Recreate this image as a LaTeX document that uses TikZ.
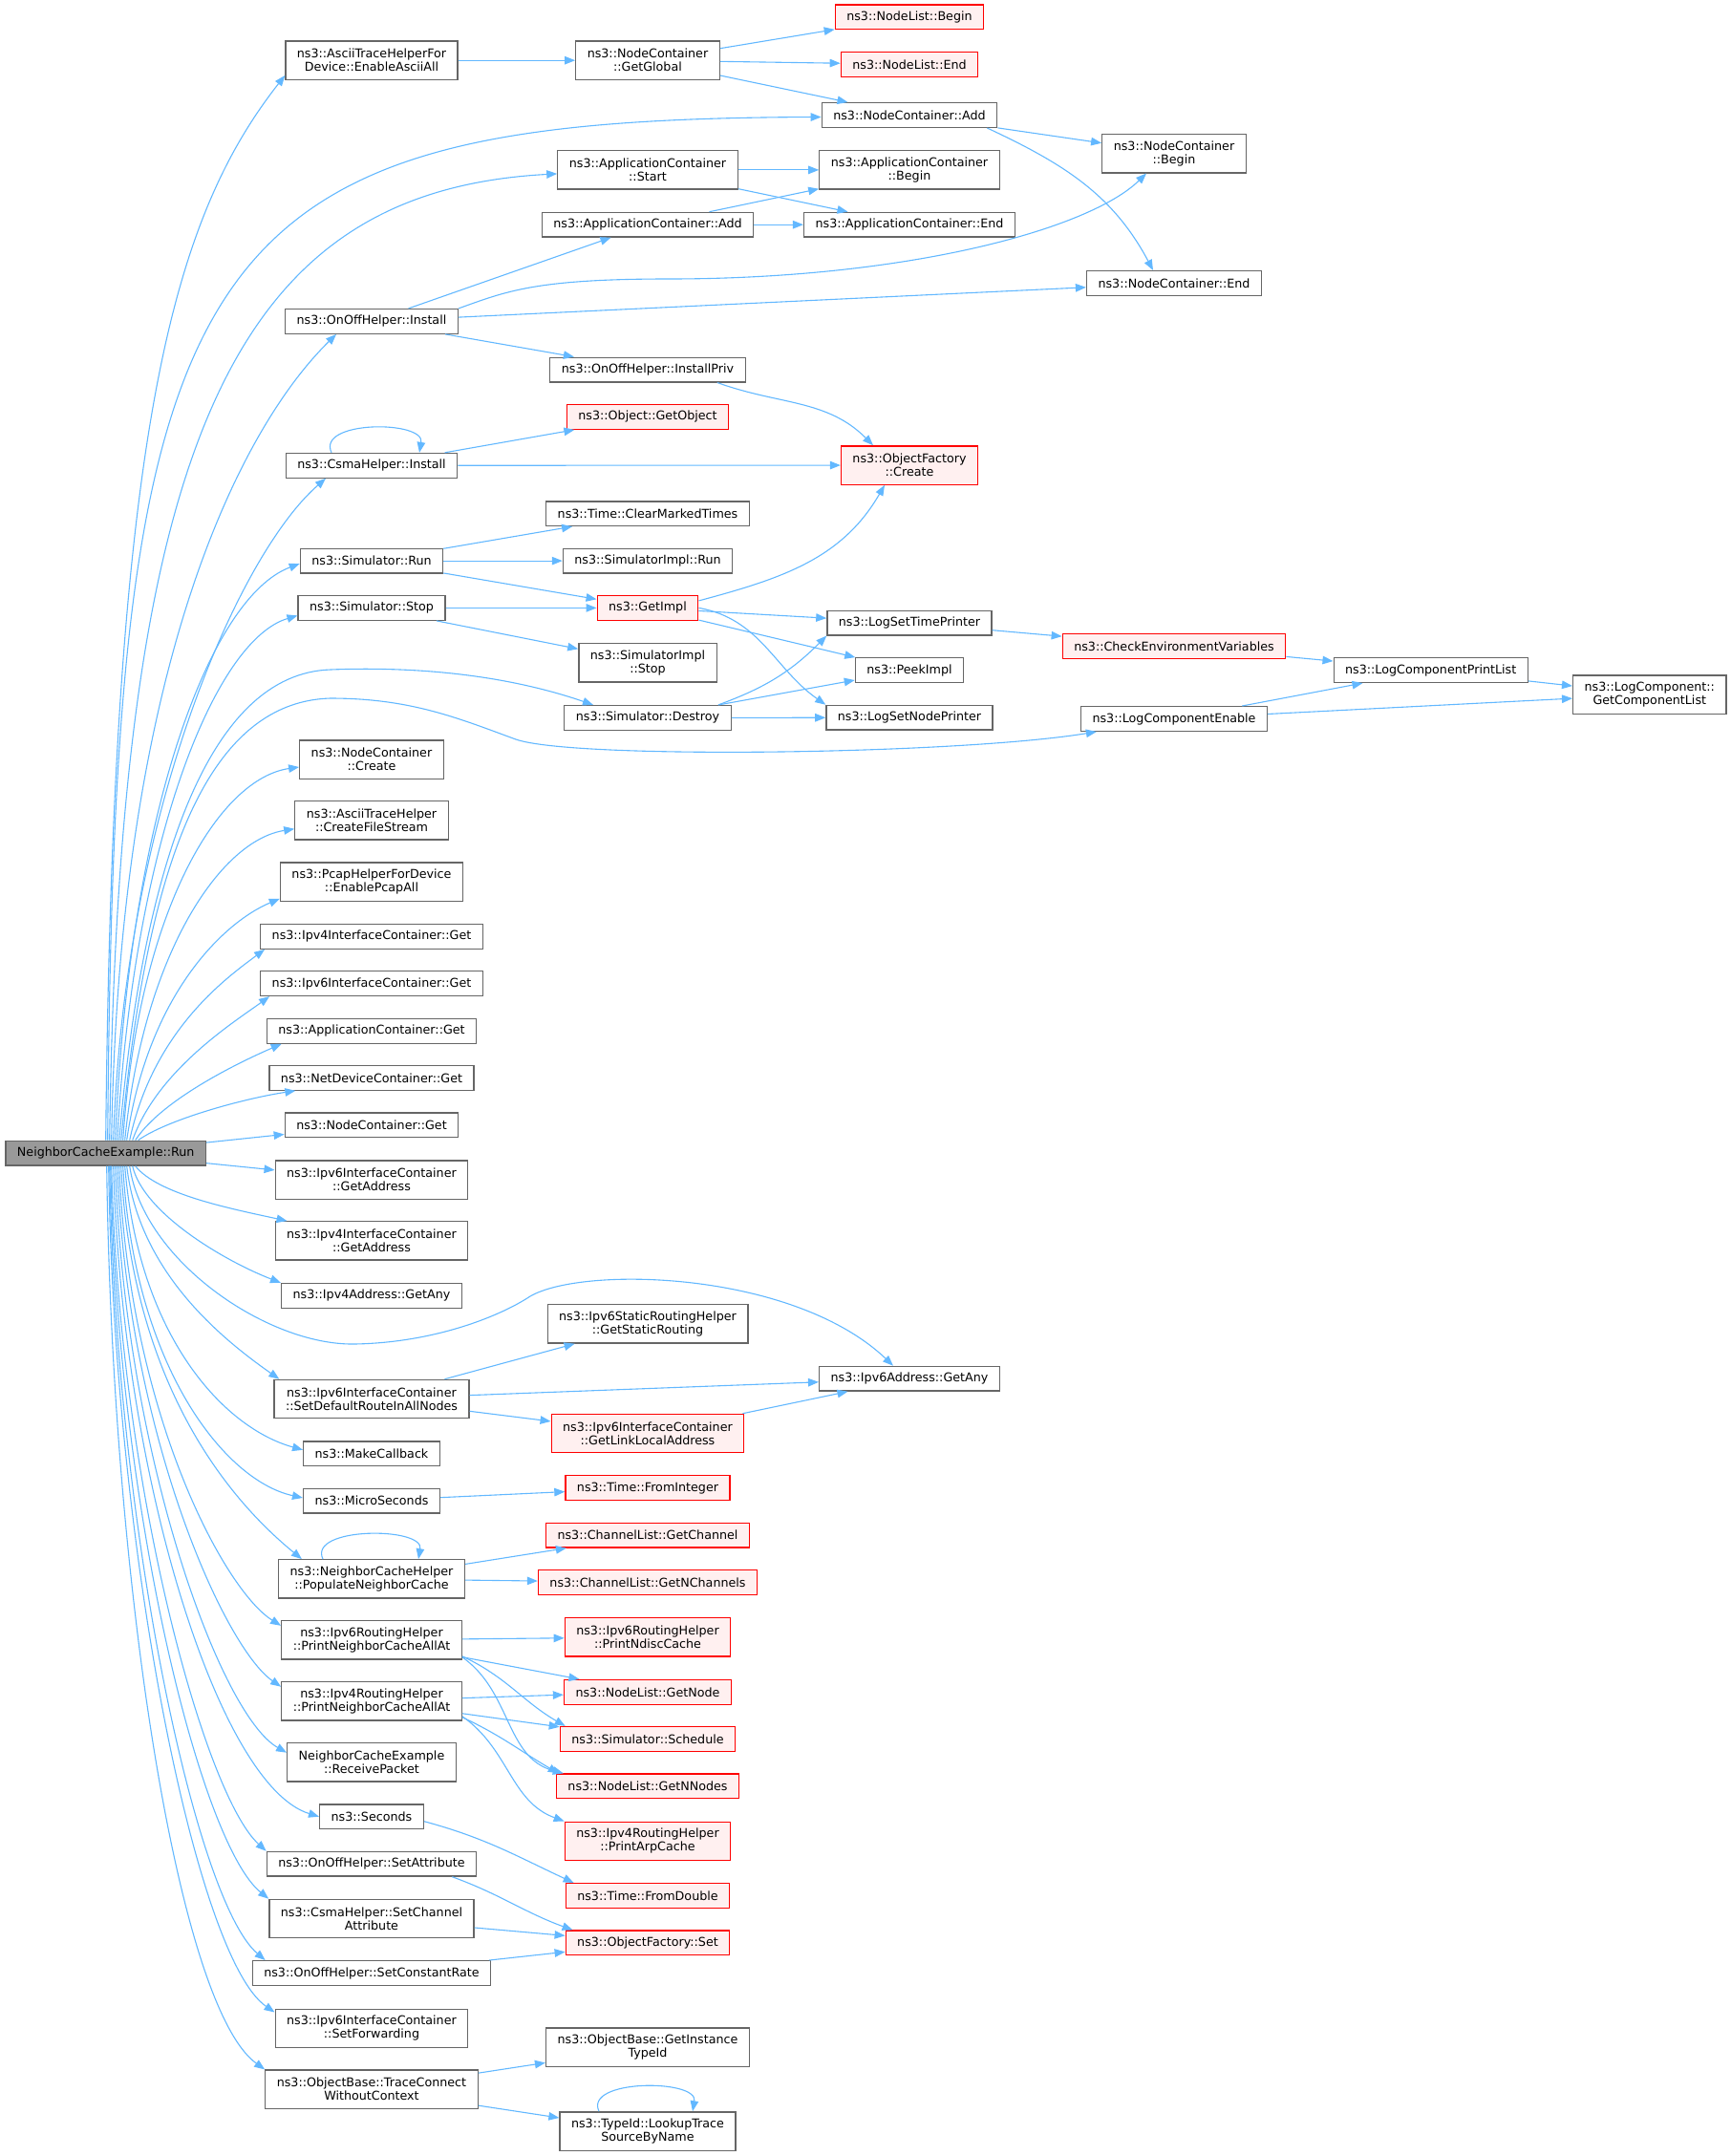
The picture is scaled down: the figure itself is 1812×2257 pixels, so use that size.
\documentclass[tikz,border=0pt]{standalone}
\usepackage{fontspec}
\newfontfamily\dejavu{DejaVu Sans}
\usetikzlibrary{arrows.meta}
\definecolor{edgeblue}{HTML}{63B8FF}
\definecolor{boxgray}{HTML}{666666}
\definecolor{redfill}{HTML}{FFF0F0}
\definecolor{mainfill}{HTML}{999999}
\tikzset{
	fn/.style={draw=boxgray, fill=white, line width=1.3pt, inner xsep=12pt, inner ysep=0pt,
		minimum height=25.7pt, align=center, font=\dejavu\fontsize{12.7pt}{14pt}\selectfont},
	tall/.style={minimum height=40.3pt},
	redfn/.style={draw=red, fill=redfill},
	mainfn/.style={fill=mainfill},
	call/.style={draw=edgeblue, line width=1.1pt, -{Triangle[length=11pt,width=8.5pt]}},
}

\begin{document}
\begin{tikzpicture}[x=1pt,y=-1pt]
	\useasboundingbox (0,0) rectangle (1812,2257);

	% caller
	\node[fn, mainfn] (run) at (110.7,1207.1) {NeighborCacheExample::Run};

	% first level
	\node[fn, tall] (asciiall) at (389,63.2) {ns3::AsciiTraceHelperFor\\Device::EnableAsciiAll};
	\node[fn] (onoffinst) at (389,336.4) {ns3::OnOffHelper::Install};
	\node[fn] (csmainst) at (389,487.3) {ns3::CsmaHelper::Install};
	\node[fn] (simrun) at (389,587.1) {ns3::Simulator::Run};
	\node[fn] (simstop) at (389,636.4) {ns3::Simulator::Stop};
	\node[fn, tall] (nccreate) at (389,795) {ns3::NodeContainer\\::Create};
	\node[fn, tall] (filestream) at (389,858.7) {ns3::AsciiTraceHelper\\::CreateFileStream};
	\node[fn, tall] (pcapall) at (389,923) {ns3::PcapHelperForDevice\\::EnablePcapAll};
	\node[fn] (ipv4get) at (389,980.4) {ns3::Ipv4InterfaceContainer::Get};
	\node[fn] (ipv6get) at (389,1029.6) {ns3::Ipv6InterfaceContainer::Get};
	\node[fn] (appget) at (389,1079.3) {ns3::ApplicationContainer::Get};
	\node[fn] (netdevget) at (389,1128.3) {ns3::NetDeviceContainer::Get};
	\node[fn] (ncget) at (389,1177.9) {ns3::NodeContainer::Get};
	\node[fn, tall] (ipv6addr) at (389,1235) {ns3::Ipv6InterfaceContainer\\::GetAddress};
	\node[fn, tall] (ipv4addr) at (389,1298.9) {ns3::Ipv4InterfaceContainer\\::GetAddress};
	\node[fn] (ipv4any) at (389,1356.4) {ns3::Ipv4Address::GetAny};
	\node[fn, tall] (setdefault) at (389,1464.5) {ns3::Ipv6InterfaceContainer\\::SetDefaultRouteInAllNodes};
	\node[fn] (makecb) at (389,1521.8) {ns3::MakeCallback};
	\node[fn] (micro) at (389,1571) {ns3::MicroSeconds};
	\node[fn, tall] (populate) at (389,1652.9) {ns3::NeighborCacheHelper\\::PopulateNeighborCache};
	\node[fn, tall] (ipv6rh) at (389,1716.8) {ns3::Ipv6RoutingHelper\\::PrintNeighborCacheAllAt};
	\node[fn, tall] (ipv4rh) at (389,1780.7) {ns3::Ipv4RoutingHelper\\::PrintNeighborCacheAllAt};
	\node[fn, tall] (recvpkt) at (389,1844.7) {NeighborCacheExample\\::ReceivePacket};
	\node[fn] (seconds) at (389,1901.7) {ns3::Seconds};
	\node[fn] (setattr) at (389,1951.2) {ns3::OnOffHelper::SetAttribute};
	\node[fn, tall] (setchanattr) at (389,2008.5) {ns3::CsmaHelper::SetChannel\\Attribute};
	\node[fn] (setrate) at (389,2065.5) {ns3::OnOffHelper::SetConstantRate};
	\node[fn, tall] (setfwd) at (389,2123.3) {ns3::Ipv6InterfaceContainer\\::SetForwarding};
	\node[fn, tall] (tracecon) at (389,2187.2) {ns3::ObjectBase::TraceConnect\\WithoutContext};

	% second level
	\node[fn, tall] (getglobal) at (678,63.2) {ns3::NodeContainer\\::GetGlobal};
	\node[fn, tall] (appstart) at (678,177.9) {ns3::ApplicationContainer\\::Start};
	\node[fn] (appadd) at (678,235.2) {ns3::ApplicationContainer::Add};
	\node[fn] (installpriv) at (678,387) {ns3::OnOffHelper::InstallPriv};
	\node[fn, redfn] (getobject) at (678,436.4) {ns3::Object::GetObject};
	\node[fn] (clearmarked) at (678,537.7) {ns3::Time::ClearMarkedTimes};
	\node[fn] (simimplrun) at (678,587.1) {ns3::SimulatorImpl::Run};
	\node[fn, redfn] (getimpl) at (678,636.4) {ns3::GetImpl};
	\node[fn, tall] (simimplstop) at (678,693.7) {ns3::SimulatorImpl\\::Stop};
	\node[fn] (simdestroy) at (678,751.4) {ns3::Simulator::Destroy};
	\node[fn, tall] (staticrt) at (678,1385.9) {ns3::Ipv6StaticRoutingHelper\\::GetStaticRouting};
	\node[fn, tall, redfn] (linklocal) at (678,1500.5) {ns3::Ipv6InterfaceContainer\\::GetLinkLocalAddress};
	\node[fn, redfn] (fromint) at (678,1557.6) {ns3::Time::FromInteger};
	\node[fn, redfn] (getchannel) at (678,1607.1) {ns3::ChannelList::GetChannel};
	\node[fn, redfn] (getnchannels) at (678,1656.4) {ns3::ChannelList::GetNChannels};
	\node[fn, tall, redfn] (ndisc) at (678,1713.9) {ns3::Ipv6RoutingHelper\\::PrintNdiscCache};
	\node[fn, redfn] (getnode) at (678,1771.3) {ns3::NodeList::GetNode};
	\node[fn, redfn] (schedule) at (678,1820.4) {ns3::Simulator::Schedule};
	\node[fn, redfn] (getnnodes) at (678,1869.9) {ns3::NodeList::GetNNodes};
	\node[fn, tall, redfn] (arpcache) at (678,1927.3) {ns3::Ipv4RoutingHelper\\::PrintArpCache};
	\node[fn, redfn] (fromdouble) at (678,1984.5) {ns3::Time::FromDouble};
	\node[fn, redfn] (objset) at (678,2033.9) {ns3::ObjectFactory::Set};
	\node[fn, tall] (getinstance) at (678,2143.1) {ns3::ObjectBase::GetInstance\\TypeId};
	\node[fn, tall] (lookup) at (678,2231) {ns3::TypeId::LookupTrace\\SourceByName};

	% third level and beyond
	\node[fn, redfn] (nlbegin) at (952,17.9) {ns3::NodeList::Begin};
	\node[fn, redfn] (nlend) at (952,67.3) {ns3::NodeList::End};
	\node[fn] (ncadd) at (952,120.5) {ns3::NodeContainer::Add};
	\node[fn, tall] (appbegin) at (952,177.9) {ns3::ApplicationContainer\\::Begin};
	\node[fn] (append) at (952,235.2) {ns3::ApplicationContainer::End};
	\node[fn, tall, redfn] (ofcreate) at (952,487) {ns3::ObjectFactory\\::Create};
	\node[fn] (logtime) at (952,652.1) {ns3::LogSetTimePrinter};
	\node[fn] (peekimpl) at (952,701.6) {ns3::PeekImpl};
	\node[fn] (lognode) at (952,751.2) {ns3::LogSetNodePrinter};
	\node[fn] (ipv6any) at (952,1443.2) {ns3::Ipv6Address::GetAny};
	\node[fn, tall] (ncbegin) at (1229,160.7) {ns3::NodeContainer\\::Begin};
	\node[fn] (ncend) at (1229,296.4) {ns3::NodeContainer::End};
	\node[fn, redfn] (checkenv) at (1229,676.4) {ns3::CheckEnvironmentVariables};
	\node[fn] (logenable) at (1229,752.5) {ns3::LogComponentEnable};
	\node[fn] (logprint) at (1497.7,701.6) {ns3::LogComponentPrintList};
	\node[fn, tall] (getcomplist) at (1726.8,727) {ns3::LogComponent::\\GetComponentList};

	% calls from run, upwards
	\draw[call] ([xshift=0pt]run.north) .. controls (118,450) and (180,230) .. ([yshift=5pt]asciiall.south west);
	\draw[call] ([xshift=2pt]run.north) .. controls (120,250) and (200,125) .. ([yshift=-2pt]ncadd.west);
	\draw[call] ([xshift=4pt]run.north) .. controls (125,450) and (250,200) .. ([yshift=-4pt]appstart.west);
	\draw[call] ([xshift=6pt]run.north) .. controls (125,700) and (250,450) .. ([xshift=-37pt]onoffinst.south);
	\draw[call] ([xshift=8pt]run.north) .. controls (130,850) and (250,580) .. ([xshift=-48pt]csmainst.south);
	\draw[call] ([xshift=10pt]run.north) .. controls (135,850) and (220,625) .. ([yshift=-3pt]simrun.west);
	\draw[call] ([xshift=12pt]run.north) .. controls (140,880) and (225,670) .. ([yshift=-8pt]simstop.west);
	\draw[call] ([xshift=14pt]run.north) .. controls (150,900) and (220,705) .. (346,701)
		.. controls (450,697) and (540,710) .. ([xshift=-57pt]simdestroy.north);
	\draw[call] ([xshift=16pt]run.north) .. controls (150,950) and (200,735) .. (346,731)
		.. controls (430,731) and (480,752) .. (540,774)
		.. controls (600,795) and (1000,790) .. ([xshift=17pt]logenable.south west);
	\draw[call] ([xshift=18pt]run.north) .. controls (145,950) and (230,815) .. ([yshift=-8pt]nccreate.west);
	\draw[call] ([xshift=20pt]run.north) .. controls (150,1000) and (230,880) .. ([yshift=-9pt]filestream.west);
	\draw[call] ([xshift=22pt]run.north) .. controls (155,1040) and (235,965) .. ([yshift=3pt]pcapall.south west);
	\draw[call] ([xshift=25pt]run.north) .. controls (160,1080) and (235,1025) .. ([xshift=5pt]ipv4get.south west);
	\draw[call] ([xshift=28pt]run.north) .. controls (165,1120) and (245,1070) .. ([xshift=10pt]ipv6get.south west);
	\draw[call] ([xshift=31pt]run.north) .. controls (170,1150) and (255,1110) .. ([xshift=16pt]appget.south west);
	\draw[call] ([xshift=34pt]run.north) .. controls (175,1172) and (255,1150) .. ([xshift=28pt]netdevget.south west);
	\draw[call] (run) -- (ncget);
	\draw[call] (run) -- (ipv6addr);

	% calls from run, downwards
	\draw[call] ([xshift=31pt]run.south) .. controls (165,1250) and (240,1265) .. ([xshift=13pt]ipv4addr.north west);
	\draw[call] ([xshift=28pt]run.south) .. controls (150,1270) and (235,1320) .. (ipv4any.north west);
	\draw[call] ([xshift=25pt]run.south) .. controls (150,1320) and (280,1408) .. (370,1407)
		.. controls (450,1406) and (520,1380) .. (555,1357)
		.. controls (610,1325) and (830,1330) .. ([xshift=-17pt]ipv6any.north);
	\draw[call] ([xshift=22pt]run.south) .. controls (145,1330) and (230,1400) .. ([xshift=6pt]setdefault.north west);
	\draw[call] ([xshift=20pt]run.south) .. controls (145,1400) and (235,1495) .. ([yshift=4pt]makecb.west);
	\draw[call] ([xshift=18pt]run.south) .. controls (140,1430) and (235,1550) .. ([yshift=3pt]micro.west);
	\draw[call] ([xshift=16pt]run.south) .. controls (138,1450) and (240,1570) .. ([xshift=25pt]populate.north west);
	\draw[call] ([xshift=14pt]run.south) .. controls (135,1480) and (235,1665) .. ([yshift=15pt]ipv6rh.west);
	\draw[call] ([xshift=12pt]run.south) .. controls (133,1500) and (235,1725) .. ([yshift=15pt]ipv4rh.west);
	\draw[call] ([xshift=10pt]run.south) .. controls (130,1520) and (230,1795) .. ([yshift=10pt]recvpkt.west);
	\draw[call] ([xshift=8pt]run.south) .. controls (128,1550) and (230,1870) .. (seconds.west);
	\draw[call] ([xshift=6pt]run.south) .. controls (125,1560) and (215,1880) .. (setattr.north west);
	\draw[call] ([xshift=5pt]run.south) .. controls (123,1580) and (210,1930) .. (setchanattr.north west);
	\draw[call] ([xshift=4pt]run.south) .. controls (121,1600) and (205,1990) .. ([xshift=14pt]setrate.north west);
	\draw[call] ([xshift=3pt]run.south) .. controls (119,1620) and (205,2050) .. ([yshift=-4pt]setfwd.north west);
	\draw[call] ([xshift=1pt]run.south) .. controls (117,1650) and (185,2100) .. (tracecon.north west);

	% upper calls
	\draw[call] (asciiall) -- (getglobal);
	\draw[call] (getglobal) -- (nlbegin);
	\draw[call] (getglobal) -- (nlend);
	\draw[call] (getglobal) -- (ncadd);
	\draw[call] (ncadd) -- (ncbegin);
	\draw[call] ([xshift=-11pt]ncadd.south east) to[out=-25,in=118] ([xshift=-22pt]ncend.north);
	\draw[call] (appstart) -- (appbegin);
	\draw[call] (appstart) -- (append);
	\draw[call] (appadd) -- (appbegin);
	\draw[call] (appadd) -- (append);
	\draw[call] (onoffinst) -- (appadd);
	\draw[call] (onoffinst.north east) .. controls (530,305) and (560,292) .. (700,292)
		.. controls (950,292) and (1140,240) .. ([xshift=-29pt]ncbegin.south);
	\draw[call] (onoffinst) -- (ncend);
	\draw[call] (onoffinst) -- (installpriv);
	\draw[call] ([xshift=-30pt]installpriv.south east) to[out=-20,in=135] ([xshift=-38pt]ofcreate.north);
	\draw[call] (csmainst) -- (getobject);
	\draw[call] (csmainst) -- (ofcreate);
	\draw[call] ([xshift=-42pt]csmainst.north) .. controls +(-16,-34) and +(6,-34) .. ([xshift=50pt]csmainst.north);

	% simulator calls
	\draw[call] (simrun) -- (clearmarked);
	\draw[call] (simrun) -- (simimplrun);
	\draw[call] (simrun) -- (getimpl);
	\draw[call] (simstop) -- (getimpl);
	\draw[call] (simstop) -- (simimplstop);
	\draw[call] ([yshift=-6pt]getimpl.north east) to[out=15,in=240] ([xshift=-26pt]ofcreate.south);
	\draw[call] (getimpl) -- (logtime);
	\draw[call] (getimpl) -- (peekimpl);
	\draw[call] (getimpl.east) to[out=-10,in=145] (lognode.north west);
	\draw[call] ([xshift=-14pt]simdestroy.north east) to[out=20,in=225] (logtime.south west);
	\draw[call] (simdestroy) -- (peekimpl);
	\draw[call] (simdestroy) -- (lognode);

	% logging
	\draw[call] (logtime) -- (checkenv);
	\draw[call] (checkenv) -- (logprint);
	\draw[call] (logenable) -- (logprint);
	\draw[call] (logenable) -- (getcomplist);
	\draw[call] (logprint) -- (getcomplist);

	% lower calls
	\draw[call] (setdefault) -- (staticrt);
	\draw[call] (setdefault) -- (ipv6any);
	\draw[call] (setdefault) -- (linklocal);
	\draw[call] (linklocal) -- (ipv6any);
	\draw[call] (micro) -- (fromint);
	\draw[call] (populate) -- (getchannel);
	\draw[call] (populate) -- (getnchannels);
	\draw[call] ([xshift=-51pt]populate.north) .. controls +(-16,-34) and +(6,-34) .. ([xshift=49pt]populate.north);
	\draw[call] (ipv6rh) -- (ndisc);
	\draw[call] (ipv6rh) -- (getnode);
	\draw[call] ([yshift=-17pt]ipv6rh.east) to[out=-25,in=150] ([xshift=6pt]schedule.north west);
	\draw[call] ([yshift=-18pt]ipv6rh.east) to[out=-35,in=165] ([xshift=8pt]getnnodes.north west);
	\draw[call] (ipv4rh) -- (getnode);
	\draw[call] (ipv4rh) -- (schedule);
	\draw[call] ([yshift=-17pt]ipv4rh.east) to[out=-25,in=150] ([xshift=3pt]getnnodes.north west);
	\draw[call] ([yshift=-16pt]ipv4rh.east) to[out=-35,in=160] (arpcache.north west);
	\draw[call] ([yshift=-5pt]seconds.east) to[out=-15,in=155] ([xshift=9pt]fromdouble.north west);
	\draw[call] ([xshift=-26pt]setattr.south east) to[out=-20,in=160] ([xshift=8pt]objset.north west);
	\draw[call] (setchanattr) -- (objset);
	\draw[call] (setrate) -- (objset);
	\draw[call] (tracecon) -- (getinstance);
	\draw[call] (tracecon) -- (lookup);
	\draw[call] ([xshift=-51pt]lookup.north) .. controls +(-16,-34) and +(6,-34) .. ([xshift=47pt]lookup.north);
\end{tikzpicture}
\end{document}
